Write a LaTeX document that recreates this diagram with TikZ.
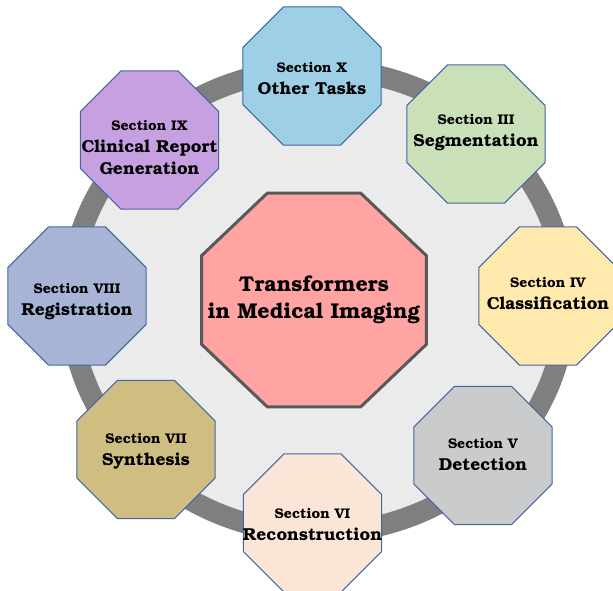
\documentclass[tikz,border=0pt]{standalone}
\usepackage[T1]{fontenc}
\usepackage{bookman}
\usetikzlibrary{shapes.geometric}
\definecolor{ringgray}{HTML}{7F7F7F}
\definecolor{ringfill}{HTML}{EBEBEB}
\definecolor{octborder}{HTML}{41679F}
\definecolor{coreborder}{HTML}{595959}
\definecolor{corefill}{HTML}{FFA3A3}
\definecolor{cX}{HTML}{9DD0E6}
\definecolor{cIX}{HTML}{C7A0E1}
\definecolor{cIII}{HTML}{C9E0B9}
\definecolor{cVIII}{HTML}{A8B4D6}
\definecolor{cIV}{HTML}{FFE9AD}
\definecolor{cVII}{HTML}{CFBD82}
\definecolor{cV}{HTML}{CACBCD}
\definecolor{cVI}{HTML}{FBE5D7}
\newcommand{\secline}[1]{{\fontsize{14}{22}\selectfont #1}}
\begin{document}
\begin{tikzpicture}[x=1pt,y=-1pt,
  oct/.style={regular polygon, regular polygon sides=8, minimum size=149.4pt,
    inner sep=0pt, outer sep=0pt, draw=octborder, line width=1pt},
  corestyle/.style={regular polygon, regular polygon sides=8, minimum size=231.6pt,
    inner sep=0pt, outer sep=0pt, draw=coreborder, fill=corefill, line width=3pt,
    xscale=1.051, transform shape},
  lbl/.style={align=center, font=\bfseries\fontsize{17.3}{22}\selectfont, inner sep=0pt, text=black},
  corelbl/.style={align=center, font=\bfseries\fontsize{21.4}{27}\selectfont, inner sep=0pt, text=black},
  ring/.style={draw=ringgray, fill=ringfill, line width=21pt}]
\useasboundingbox (0,0) rectangle (613,590);
\clip (0,0) rectangle (613,590);
\path[ring] (318,301) ellipse [x radius=248pt, y radius=232pt];
\node[corestyle] (core) at (314,300) {};
\node[corelbl] (coretext) at (314,300) {Transformers\\in Medical Imaging};
\node[oct, fill=cX] (sX) at (312,76) {};
\node[lbl] (tX) at (312,79) {\secline{Section X}\\Other Tasks};
\node[oct, fill=cIII] (sIII) at (476,134) {};
\node[lbl] (tIII) at (476,132.5) {\secline{Section III}\\Segmentation};
\node[oct, fill=cIV] (sIV) at (548,296) {};
\node[lbl] (tIV) at (548,293.5) {\secline{Section IV}\\Classification};
\node[oct, fill=cV] (sV) at (483,455.5) {};
\node[lbl] (tV) at (483,454) {\secline{Section V}\\Detection};
\node[oct, fill=cVI] (sVI) at (312.5,523) {};
\node[lbl] (tVI) at (312.5,524.5) {\secline{Section VI}\\Reconstruction};
\node[oct, fill=cVII] (sVII) at (146,449.5) {};
\node[lbl] (tVII) at (146,451.5) {\secline{Section VII}\\Synthesis};
\node[oct, fill=cVIII] (sVIII) at (77,296) {};
\node[lbl] (tVIII) at (77,302) {\secline{Section VIII}\\Registration};
\node[oct, fill=cIX] (sIX) at (149.5,140) {};
\node[lbl] (tIX) at (149.5,148) {\secline{Section IX}\\Clinical Report\\Generation};
\end{tikzpicture}
\end{document}
